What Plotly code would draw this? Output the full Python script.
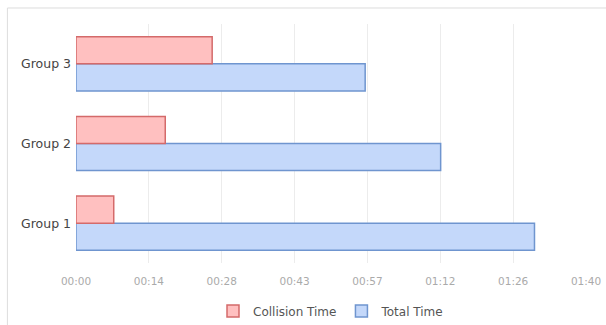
import plotly.graph_objects as go

groups = ["Group 1", "Group 2", "Group 3"]
collision_time = [7.4, 17.5, 26.7]   # seconds
total_time = [89.9, 71.5, 56.7]      # seconds
tick_vals = [0, 100/7, 200/7, 300/7, 400/7, 500/7, 600/7, 100]
tick_text = ["00:00", "00:14", "00:28", "00:43", "00:57", "01:12", "01:26", "01:40"]

FONT = "DejaVu Sans, Liberation Sans, Arial, sans-serif"

fig = go.Figure()
fig.add_trace(go.Bar(
    y=groups, x=total_time, orientation="h", name="Total Time",
    marker=dict(color="#c4d8fa", line=dict(color="#6f95cf", width=1.5)),
    legendrank=2,
))
fig.add_trace(go.Bar(
    y=groups, x=collision_time, orientation="h", name="Collision Time",
    marker=dict(color="#ffc0c0", line=dict(color="#d46a6a", width=1.5)),
    legendrank=1,
))

fig.update_layout(
    width=606, height=325,
    margin=dict(l=76, r=20, t=24, b=62, autoexpand=False),
    paper_bgcolor="white", plot_bgcolor="white",
    barmode="group", bargap=0.32, bargroupgap=0,
    font=dict(family=FONT, color="#444"),
    showlegend=True,
    legend=dict(orientation="h", x=0.5, xanchor="center",
                xref="paper", yref="container", y=1 - 311/325, yanchor="middle",
                font=dict(size=12, color="#555", family=FONT), itemwidth=30,
                entrywidth=0, tracegroupgap=0),
    xaxis=dict(range=[0, 100], tickvals=tick_vals, ticktext=tick_text,
               showgrid=True, gridcolor="#ececec", gridwidth=1,
               zeroline=False, showline=False, automargin=False,
               ticks="outside", ticklen=8, tickcolor="white",
               tickfont=dict(size=10.5, color="#aaaaaa", family=FONT)),
    yaxis=dict(showgrid=False, zeroline=False, showline=False, automargin=False,
               tickfont=dict(size=12.5, color="#444", family=FONT), ticklabelstandoff=4),
    shapes=[dict(type="rect", xref="paper", yref="paper",
                 x0=-0.1345, x1=1.08, y0=-0.35, y1=1.067,
                 line=dict(color="#dddddd", width=1), fillcolor="rgba(0,0,0,0)",
                 layer="below")],
)

fig.write_html("out.html")
